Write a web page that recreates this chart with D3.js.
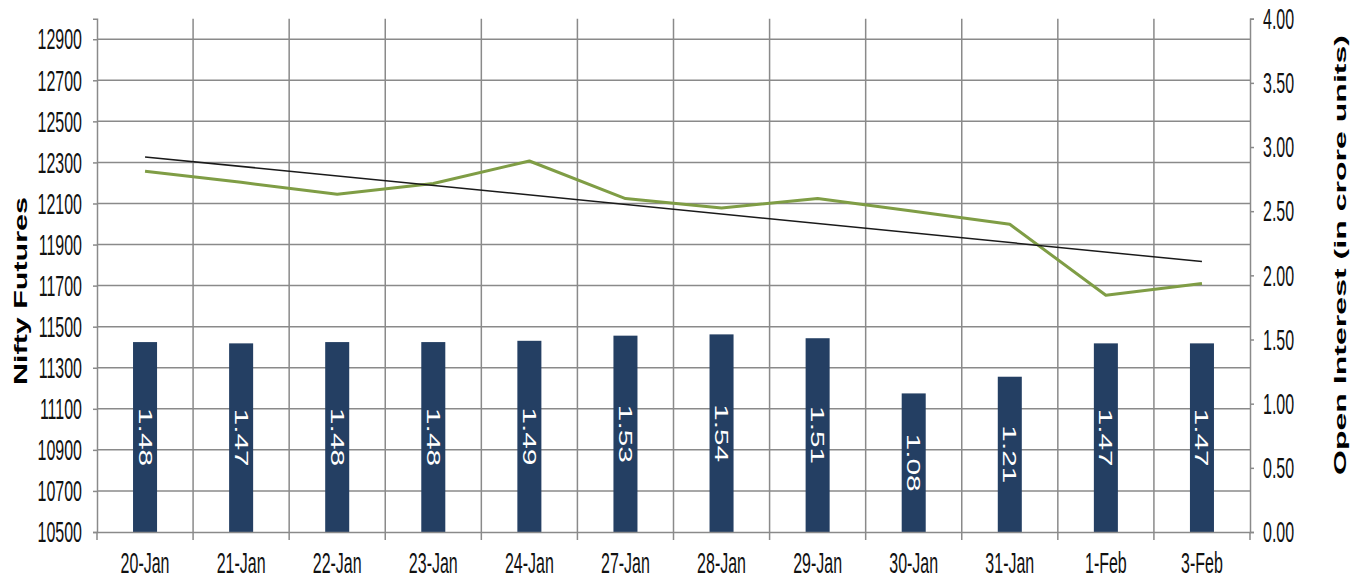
<!DOCTYPE html>
<html>
<head>
<meta charset="utf-8">
<script src="https://cdn.jsdelivr.net/npm/d3@7"></script>
<style>
  body { margin: 0; background: #fff; }
  text { font-family: Arial, "Liberation Sans", sans-serif; }
</style>
</head>
<body>
<div id="chart"></div>
<script>
// chart data
var categories = ["20-Jan", "21-Jan", "22-Jan", "23-Jan", "24-Jan", "27-Jan", "28-Jan", "29-Jan", "30-Jan", "31-Jan", "1-Feb", "3-Feb"];
var futures = [12257, 12203, 12145, 12197, 12307, 12124, 12078, 12124, 12062, 11999, 11653, 11710];
var openInterest = [1.48, 1.47, 1.48, 1.48, 1.49, 1.53, 1.54, 1.51, 1.08, 1.21, 1.47, 1.47];
// linear trendline of futures, first and last point
var trendEnds = [12327, 11817];
var leftTicks = [10500, 10700, 10900, 11100, 11300, 11500, 11700, 11900, 12100, 12300, 12500, 12700, 12900];
var rightTicks = [0, 0.5, 1, 1.5, 2, 2.5, 3, 3.5, 4];

var svgWidth = 1361;
var svgHeight = 581;

var plot = { left: 97, right: 1250, top: 18.7, bottom: 532 };

var svg = d3.select("#chart")
  .append("svg")
  .attr("width", svgWidth)
  .attr("height", svgHeight);

// scales
var xScale = d3.scaleBand()
  .domain(categories)
  .range([plot.left, plot.right]);

var yLeft = d3.scaleLinear()
  .domain([10500, 13000])
  .range([plot.bottom, plot.top]);

var yRight = d3.scaleLinear()
  .domain([0, 4])
  .range([plot.bottom, plot.top]);

var gridColor = "#8a8a8a";

// horizontal gridlines (left axis ticks)
svg.append("g")
  .selectAll("line")
  .data(leftTicks.slice(1))
  .enter()
  .append("line")
  .attr("x1", plot.left)
  .attr("x2", plot.right)
  .attr("y1", d => yLeft(d))
  .attr("y2", d => yLeft(d))
  .attr("stroke", gridColor)
  .attr("stroke-width", 1.5);

// vertical gridlines at category boundaries
var boundaries = categories.map(c => xScale(c)).concat([plot.right]);
svg.append("g")
  .selectAll("line")
  .data(boundaries.slice(1, -1))
  .enter()
  .append("line")
  .attr("x1", d => d)
  .attr("x2", d => d)
  .attr("y1", plot.top)
  .attr("y2", plot.bottom)
  .attr("stroke", gridColor)
  .attr("stroke-width", 1.5);

// bottom tick marks
svg.append("g")
  .selectAll("line")
  .data(boundaries)
  .enter()
  .append("line")
  .attr("x1", d => d)
  .attr("x2", d => d)
  .attr("y1", plot.bottom)
  .attr("y2", plot.bottom + 8)
  .attr("stroke", gridColor)
  .attr("stroke-width", 1.5);

// bars (open interest, right axis)
var barWidth = xScale.bandwidth() * 0.25;
svg.append("g")
  .selectAll("rect")
  .data(openInterest)
  .enter()
  .append("rect")
  .attr("x", (d, i) => xScale(categories[i]) + xScale.bandwidth() / 2 - barWidth / 2)
  .attr("y", d => yRight(d))
  .attr("width", barWidth)
  .attr("height", d => plot.bottom - yRight(d))
  .attr("fill", "#243f63");

// bar labels, rotated
svg.append("g")
  .selectAll("text")
  .data(openInterest)
  .enter()
  .append("text")
  .attr("transform", (d, i) => {
    var cx = xScale(categories[i]) + xScale.bandwidth() / 2;
    var cy = (yRight(d) + plot.bottom) / 2;
    return `translate(${cx}, ${cy}) rotate(90)`;
  })
  .attr("text-anchor", "middle")
  .attr("dy", "0.36em")
  .attr("fill", "#ffffff")
  .style("font-size", "18px")
  .attr("textLength", 58)
  .attr("lengthAdjust", "spacingAndGlyphs")
  .text(d => d.toFixed(2));

// axes
var leftAxis = d3.axisLeft(yLeft).tickValues(leftTicks).tickSize(4).tickFormat(d3.format("d"));
var rightAxis = d3.axisRight(yRight).tickValues(rightTicks).tickSize(4).tickFormat(d3.format(".2f"));
var bottomAxis = d3.axisBottom(xScale).tickSize(0);

var gLeft = svg.append("g")
  .attr("transform", `translate(${plot.left}, 0)`)
  .call(leftAxis);

var gRight = svg.append("g")
  .attr("transform", `translate(${plot.right}, 0)`)
  .call(rightAxis);

var gBottom = svg.append("g")
  .attr("transform", `translate(0, ${plot.bottom})`)
  .call(bottomAxis);

[gLeft, gRight, gBottom].forEach(function(g) {
  g.select(".domain").attr("stroke", gridColor).attr("stroke-width", 1.5);
  g.selectAll(".tick line").attr("stroke", gridColor).attr("stroke-width", 1.5);
  g.selectAll(".tick text")
    .attr("fill", "#111111")
    .style("font-size", "16px");
});

gLeft.selectAll(".tick text")
  .attr("x", -15)
  .attr("transform", "scale(1, 1.9)");

gRight.selectAll(".tick text")
  .attr("x", 13)
  .attr("transform", "scale(1, 1.9)");

gBottom.selectAll(".tick text")
  .attr("y", 22.6)
  .attr("dy", 0)
  .attr("transform", "scale(1, 1.8)");

// futures line
var line = d3.line()
  .x((d, i) => xScale(categories[i]) + xScale.bandwidth() / 2)
  .y(d => yLeft(d));

svg.append("path")
  .datum(futures)
  .attr("d", line)
  .attr("fill", "none")
  .attr("stroke", "#7f9d45")
  .attr("stroke-width", 3)
  .attr("stroke-linejoin", "round");

// trendline
svg.append("line")
  .attr("x1", xScale(categories[0]) + xScale.bandwidth() / 2)
  .attr("x2", xScale(categories[categories.length - 1]) + xScale.bandwidth() / 2)
  .attr("y1", yLeft(trendEnds[0]))
  .attr("y2", yLeft(trendEnds[1]))
  .attr("stroke", "#1a1a1a")
  .attr("stroke-width", 1.5);

// axis titles
svg.append("text")
  .attr("transform", "translate(27, 291) rotate(-90)")
  .attr("text-anchor", "middle")
  .style("font-size", "18px")
  .style("font-weight", "bold")
  .attr("textLength", 188)
  .attr("lengthAdjust", "spacingAndGlyphs")
  .text("Nifty Futures");

svg.append("text")
  .attr("transform", "translate(1346, 255) rotate(-90)")
  .attr("text-anchor", "middle")
  .style("font-size", "17px")
  .style("font-weight", "bold")
  .attr("textLength", 440)
  .attr("lengthAdjust", "spacingAndGlyphs")
  .text("Open Interest (in crore units)");
</script>
</body>
</html>
